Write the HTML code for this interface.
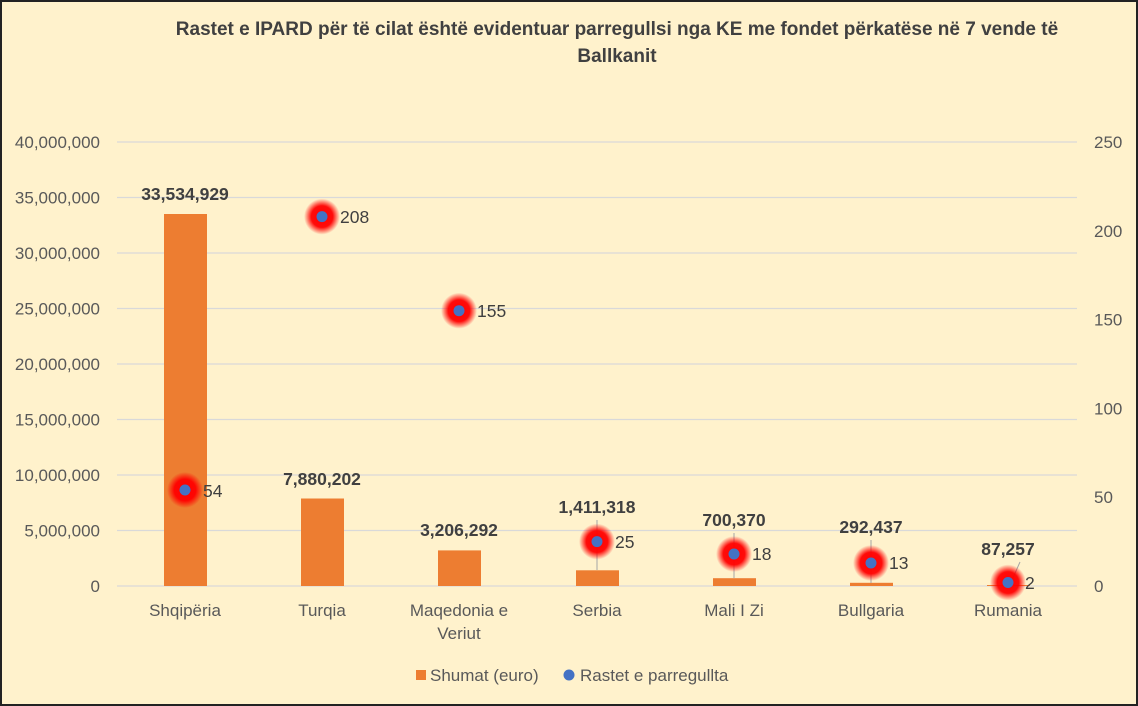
<!DOCTYPE html>
<html><head><meta charset="utf-8"><style>
body{margin:0;background:#fff}
svg{display:block;font-family:"Liberation Sans",sans-serif}
</style></head><body>
<svg width="1138" height="706" viewBox="0 0 1138 706" xmlns="http://www.w3.org/2000/svg">
<defs>
<radialGradient id="g">
<stop offset="0" stop-color="#ff0000" stop-opacity="1"/>
<stop offset="0.6" stop-color="#ff0000" stop-opacity="0.95"/>
<stop offset="1" stop-color="#ff0000" stop-opacity="0"/>
</radialGradient>
</defs>
<rect x="1" y="1" width="1136" height="704" fill="#FFF2CC" stroke="#222" stroke-width="2"/>
<text x="617" y="35" text-anchor="middle" font-size="19" font-weight="bold" fill="#404040">Rastet e IPARD për të cilat është evidentuar parregullsi nga KE me fondet përkatëse në 7 vende të</text>
<text x="617" y="62" text-anchor="middle" font-size="19" font-weight="bold" fill="#404040">Ballkanit</text>
<g stroke="#d9d9d9" stroke-width="1.3">
<line x1="117" x2="1077" y1="142" y2="142"/><line x1="117" x2="1077" y1="197.5" y2="197.5"/>
<line x1="117" x2="1077" y1="253" y2="253"/><line x1="117" x2="1077" y1="308.5" y2="308.5"/>
<line x1="117" x2="1077" y1="364" y2="364"/><line x1="117" x2="1077" y1="419.5" y2="419.5"/>
<line x1="117" x2="1077" y1="475" y2="475"/><line x1="117" x2="1077" y1="530.5" y2="530.5"/>
<line x1="117" x2="1077" y1="586" y2="586"/>
</g>
<g font-size="17" fill="#595959" text-anchor="end">
<text x="100" y="148">40,000,000</text><text x="100" y="203.5">35,000,000</text>
<text x="100" y="259">30,000,000</text><text x="100" y="314.5">25,000,000</text>
<text x="100" y="370">20,000,000</text><text x="100" y="425.5">15,000,000</text>
<text x="100" y="481">10,000,000</text><text x="100" y="536.5">5,000,000</text>
<text x="100" y="592">0</text>
</g>
<g font-size="17" fill="#595959" text-anchor="start">
<text x="1094" y="148">250</text><text x="1094" y="236.8">200</text>
<text x="1094" y="325.6">150</text><text x="1094" y="414.4">100</text>
<text x="1094" y="503.2">50</text><text x="1094" y="592">0</text>
</g>
<g fill="#ED7D31">
<rect x="164" y="214" width="43" height="372"/>
<rect x="301" y="498.5" width="43" height="87.5"/>
<rect x="438" y="550.4" width="43" height="35.6"/>
<rect x="576" y="570.3" width="43" height="15.7"/>
<rect x="713" y="578.2" width="43" height="7.8"/>
<rect x="850" y="582.8" width="43" height="3.2"/>
<rect x="987" y="585" width="43" height="1"/>
</g>
<g font-size="17.5" font-weight="bold" fill="#404040" text-anchor="middle">
<text x="185" y="200">33,534,929</text>
<text x="322" y="485">7,880,202</text>
<text x="459" y="536">3,206,292</text>
<text x="597" y="513">1,411,318</text>
<text x="734" y="526">700,370</text>
<text x="871" y="533">292,437</text>
<text x="1008" y="555">87,257</text>
</g>
<g stroke="#a6a6a6" stroke-width="1">
<line x1="597" y1="520" x2="597" y2="570"/>
<line x1="734" y1="533" x2="734" y2="578"/>
<line x1="871" y1="540" x2="871" y2="583"/>
<line x1="1020" y1="562" x2="1012" y2="580"/>
</g>
<g fill="url(#g)">
<circle cx="185" cy="490" r="18"/><circle cx="322" cy="216.6" r="18"/>
<circle cx="459" cy="310.7" r="18"/><circle cx="597" cy="541.6" r="18"/>
<circle cx="734" cy="554" r="18"/><circle cx="871" cy="563" r="18"/>
<circle cx="1008" cy="582.5" r="18"/>
</g>
<g fill="#4472C4">
<circle cx="185" cy="490" r="5.5"/><circle cx="322" cy="216.6" r="5.5"/>
<circle cx="459" cy="310.7" r="5.5"/><circle cx="597" cy="541.6" r="5.5"/>
<circle cx="734" cy="554" r="5.5"/><circle cx="871" cy="563" r="5.5"/>
<circle cx="1008" cy="582.5" r="5.5"/>
</g>
<g font-size="17.5" fill="#404040">
<text x="203" y="497">54</text><text x="340" y="223">208</text>
<text x="477" y="317">155</text><text x="615" y="548">25</text>
<text x="752" y="560">18</text><text x="889" y="569">13</text>
<text x="1025" y="589">2</text>
</g>
<g font-size="17" fill="#595959" text-anchor="middle">
<text x="185" y="616">Shqipëria</text><text x="322" y="616">Turqia</text>
<text x="459" y="616">Maqedonia e</text><text x="459" y="639">Veriut</text>
<text x="597" y="616">Serbia</text><text x="734" y="616">Mali I Zi</text>
<text x="871" y="616">Bullgaria</text><text x="1008" y="616">Rumania</text>
</g>
<rect x="416" y="670" width="10" height="10" fill="#ED7D31"/>
<text x="430" y="681" font-size="17" fill="#595959">Shumat (euro)</text>
<circle cx="569" cy="675" r="5.5" fill="#4472C4"/>
<text x="580" y="681" font-size="17" fill="#595959">Rastet e parregullta</text>
</svg>
</body></html>
